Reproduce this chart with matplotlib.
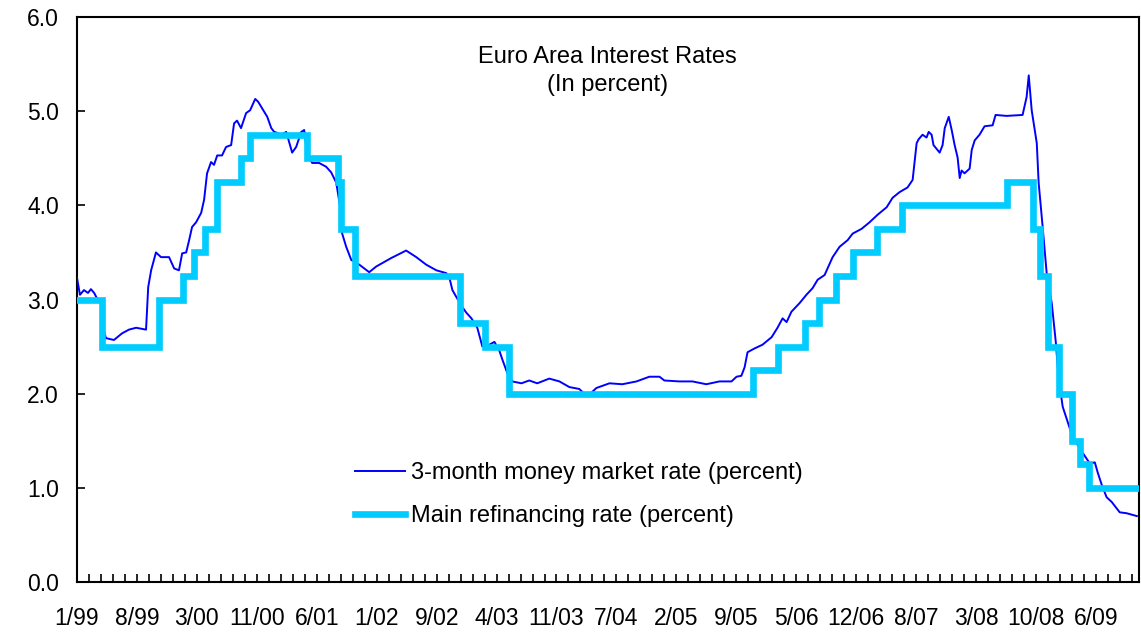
import matplotlib
matplotlib.use("Agg")
import matplotlib.pyplot as plt
import matplotlib.dates as mdates
import pandas as pd

plt.rcParams["font.family"] = ["Liberation Sans", "DejaVu Sans"]

# 3-month money market rate (percent)
mm_dates = [
    "1999-01-04", "1999-01-15", "1999-01-30", "1999-02-14", "1999-02-25", "1999-03-09",
    "1999-03-20", "1999-04-05", "1999-04-12", "1999-04-22", "1999-05-22", "1999-06-21",
    "1999-07-17", "1999-08-13", "1999-09-19", "1999-09-27", "1999-10-08", "1999-10-26",
    "1999-11-14", "1999-12-14", "2000-01-02", "2000-01-20", "2000-02-01", "2000-02-16",
    "2000-02-27", "2000-03-09", "2000-03-24", "2000-04-12", "2000-04-23", "2000-05-04",
    "2000-05-19", "2000-05-30", "2000-06-11", "2000-06-29", "2000-07-14", "2000-08-02",
    "2000-08-13", "2000-08-24", "2000-09-08", "2000-09-27", "2000-10-12", "2000-10-31",
    "2000-11-11", "2000-11-26", "2000-12-15", "2000-12-30", "2001-01-10", "2001-01-21",
    "2001-02-05", "2001-02-24", "2001-03-18", "2001-04-02", "2001-04-21", "2001-05-02",
    "2001-05-13", "2001-06-01", "2001-06-27", "2001-07-23", "2001-08-11", "2001-08-30",
    "2001-09-17", "2001-09-21", "2001-10-06", "2001-10-25", "2001-11-24", "2001-12-31",
    "2002-01-26", "2002-03-23", "2002-05-18", "2002-06-25", "2002-08-01", "2002-09-08",
    "2002-10-15", "2002-10-26", "2002-11-07", "2002-11-21", "2002-12-14", "2002-12-29",
    "2003-01-17", "2003-02-08", "2003-02-27", "2003-03-25", "2003-04-13", "2003-05-01",
    "2003-05-13", "2003-05-31", "2003-06-19", "2003-07-23", "2003-08-21", "2003-09-20",
    "2003-11-04", "2003-12-12", "2004-01-18", "2004-02-24", "2004-03-25", "2004-04-28",
    "2004-06-16", "2004-08-03", "2004-09-25", "2004-11-12", "2004-12-20", "2005-01-07",
    "2005-03-04", "2005-04-22", "2005-06-13", "2005-08-01", "2005-09-15", "2005-10-04",
    "2005-10-22", "2005-11-03", "2005-11-14", "2005-12-10", "2006-01-09", "2006-02-12",
    "2006-03-06", "2006-03-25", "2006-04-09", "2006-04-27", "2006-05-27", "2006-06-22",
    "2006-07-15", "2006-08-03", "2006-08-29", "2006-09-28", "2006-10-24", "2006-11-23",
    "2006-12-12", "2007-01-14", "2007-02-13", "2007-03-15", "2007-04-18", "2007-05-10",
    "2007-06-05", "2007-07-05", "2007-07-24", "2007-08-08", "2007-08-15", "2007-08-30",
    "2007-09-14", "2007-09-22", "2007-10-03", "2007-10-10", "2007-11-02", "2007-11-13",
    "2007-11-21", "2007-12-06", "2007-12-17", "2007-12-28", "2008-01-08", "2008-01-16",
    "2008-01-23", "2008-02-03", "2008-02-22", "2008-03-01", "2008-03-12", "2008-03-30",
    "2008-04-18", "2008-05-18", "2008-05-29", "2008-07-09", "2008-09-07", "2008-09-22",
    "2008-09-30", "2008-10-11", "2008-10-18", "2008-10-30", "2008-11-06", "2008-11-21",
    "2008-12-06", "2008-12-25", "2009-01-09", "2009-01-20", "2009-02-04", "2009-03-13",
    "2009-04-20", "2009-05-16", "2009-06-04", "2009-06-15", "2009-06-30", "2009-07-18",
    "2009-08-06", "2009-09-05", "2009-10-01", "2009-11-08",
]
mm_rates = [
    3.23, 3.05, 3.10, 3.07, 3.11, 3.07,
    3.01, 2.95, 2.70, 2.59, 2.57, 2.64,
    2.68, 2.70, 2.68, 3.13, 3.31, 3.50,
    3.45, 3.45, 3.33, 3.31, 3.49, 3.50,
    3.63, 3.77, 3.82, 3.92, 4.06, 4.34,
    4.46, 4.43, 4.53, 4.53, 4.62, 4.64,
    4.87, 4.90, 4.82, 4.98, 5.01, 5.13,
    5.10, 5.03, 4.94, 4.82, 4.78, 4.77,
    4.75, 4.78, 4.56, 4.62, 4.78, 4.80,
    4.55, 4.45, 4.45, 4.41, 4.35, 4.24,
    3.92, 3.70, 3.56, 3.42, 3.37, 3.29,
    3.35, 3.44, 3.52, 3.45, 3.37, 3.31,
    3.28, 3.24, 3.10, 3.03, 2.92, 2.86,
    2.80, 2.70, 2.50, 2.52, 2.55, 2.46,
    2.36, 2.22, 2.13, 2.11, 2.14, 2.11,
    2.16, 2.13, 2.07, 2.05, 1.97, 2.06,
    2.11, 2.10, 2.13, 2.18, 2.18, 2.14,
    2.13, 2.13, 2.10, 2.13, 2.13, 2.18,
    2.19, 2.28, 2.44, 2.48, 2.52, 2.60,
    2.70, 2.80, 2.76, 2.87, 2.96, 3.05,
    3.12, 3.21, 3.26, 3.45, 3.56, 3.63,
    3.70, 3.75, 3.82, 3.90, 3.98, 4.08,
    4.14, 4.19, 4.27, 4.66, 4.70, 4.75,
    4.72, 4.78, 4.75, 4.64, 4.56, 4.64,
    4.82, 4.94, 4.80, 4.64, 4.51, 4.29,
    4.37, 4.34, 4.39, 4.59, 4.69, 4.75,
    4.84, 4.85, 4.96, 4.95, 4.96, 5.15,
    5.38, 5.01, 4.88, 4.66, 4.24, 3.77,
    3.28, 2.96, 2.55, 2.15, 1.86, 1.54,
    1.37, 1.26, 1.27, 1.16, 1.03, 0.90,
    0.85, 0.74, 0.73, 0.70,
]

# ECB main refinancing rate: date of each change and the new level
refi_dates = [
    "1999-01-04", "1999-04-09", "1999-11-05", "2000-02-04", "2000-03-17", "2000-04-28",
    "2000-06-09", "2000-09-06", "2000-10-11", "2001-05-11", "2001-09-05", "2001-09-18",
    "2001-11-09", "2002-12-06", "2003-03-07", "2003-06-06", "2005-12-06", "2006-03-08",
    "2006-06-15", "2006-08-09", "2006-10-11", "2006-12-13", "2007-03-14", "2007-06-13",
    "2008-07-09", "2008-10-15", "2008-11-12", "2008-12-10", "2009-01-21", "2009-03-11",
    "2009-04-08", "2009-05-13",
]
refi_rates = [
    3.00, 2.50, 3.00, 3.25, 3.50, 3.75,
    4.25, 4.50, 4.75, 4.50, 4.25, 3.75,
    3.25, 2.75, 2.50, 2.00, 2.25, 2.50,
    2.75, 3.00, 3.25, 3.50, 3.75, 4.00,
    4.25, 3.75, 3.25, 2.50, 2.00, 1.50,
    1.25, 1.00,
]

tick_labels = [
    "1/99", "8/99", "3/00", "11/00", "6/01", "1/02", "9/02", "4/03", "11/03",
    "7/04", "2/05", "9/05", "5/06", "12/06", "8/07", "3/08", "10/08", "6/09",
]

START = pd.Timestamp("1999-01-04")
END = pd.Timestamp("2009-11-15")
LABEL_STEP = 224.0          # days between labelled ticks
MINOR_STEP = LABEL_STEP / 5

mm_x = pd.to_datetime(mm_dates)
refi_x = list(pd.to_datetime(refi_dates)) + [END]
refi_y = refi_rates + [refi_rates[-1]]

fig = plt.figure(figsize=(11.41, 6.33), dpi=100)
ax = fig.add_axes([0.0675, 0.0806, 0.9305, 0.8925])

ax.plot(mm_x, mm_rates, color="#0000FF", lw=1.4, zorder=3,
        label="3-month money market rate (percent)")
ax.step(refi_x, refi_y, where="post", color="#00CCFF", lw=4.8, zorder=4,
        solid_joinstyle="miter", label="Main refinancing rate (percent)")

ax.set_xlim(mdates.date2num(START), mdates.date2num(END))
ax.set_ylim(0, 6)
ax.set_yticks([0, 1, 2, 3, 4, 5, 6])
ax.set_yticklabels([f"{v:.1f}" for v in range(7)])

start_num = mdates.date2num(START)
end_num = mdates.date2num(END)
minor = []
k = 0
while start_num + k * MINOR_STEP <= end_num:
    minor.append(start_num + k * MINOR_STEP)
    k += 1
major = [start_num + i * LABEL_STEP for i in range(len(tick_labels))]
ax.set_xticks(major)
ax.set_xticklabels(tick_labels)
ax.set_xticks(minor, minor=True)

ax.tick_params(axis="y", direction="in", length=6, width=1.2, labelsize=16.5, pad=13)
ax.tick_params(axis="x", which="both", direction="in", length=6, width=1.2,
               labelsize=16.5, pad=18)
ax.tick_params(axis="y", right=False)
for s in ax.spines.values():
    s.set_linewidth(1.5)

ax.text(0.5, 0.948, "Euro Area Interest Rates\n(In percent)", transform=ax.transAxes,
        ha="center", va="top", fontsize=17, linespacing=1.35)

ax.legend(loc="upper left", bbox_to_anchor=(0.262, 0.212), frameon=False,
          fontsize=17, handlelength=2.1, handletextpad=0.25, labelspacing=0.9,
          borderpad=0, borderaxespad=0)

fig.savefig("out.png", dpi=100)
